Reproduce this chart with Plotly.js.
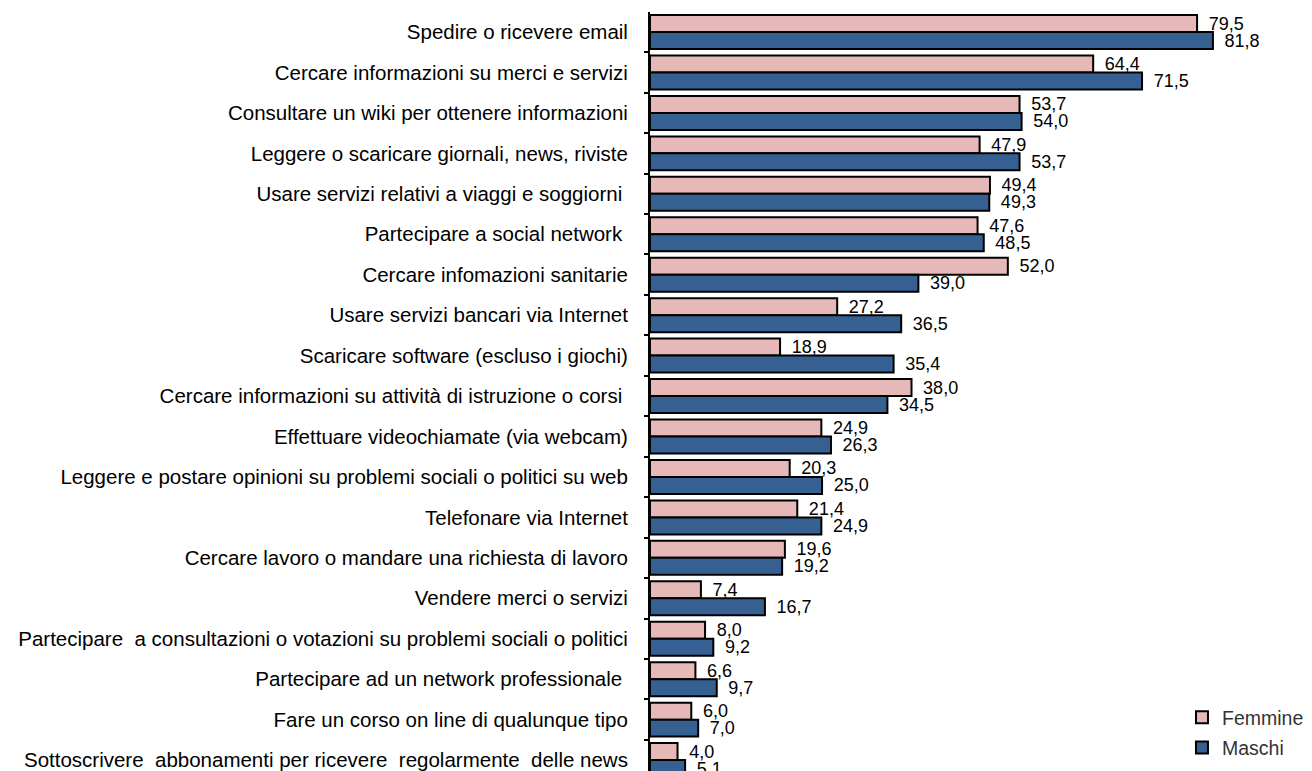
<!DOCTYPE html>
<html>
<head>
<meta charset="utf-8">
<script src="https://cdn.plot.ly/plotly-3.0.1.min.js"></script>
<style>
html,body{margin:0;padding:0;background:#fff;}
#chart{width:1312px;height:771px;}
</style>
</head>
<body>
<div id="chart"></div>
<script>
const categories = [
  "Spedire o ricevere email",
  "Cercare informazioni su merci e servizi",
  "Consultare un wiki per ottenere informazioni",
  "Leggere o scaricare giornali, news, riviste",
  "Usare servizi relativi a viaggi e soggiorni\u00a0",
  "Partecipare a social network\u00a0",
  "Cercare infomazioni sanitarie",
  "Usare servizi bancari via Internet",
  "Scaricare software (escluso i giochi)",
  "Cercare informazioni su attività di istruzione o corsi\u00a0",
  "Effettuare videochiamate (via webcam)",
  "Leggere e postare opinioni su problemi sociali o politici su web",
  "Telefonare via Internet",
  "Cercare lavoro o mandare una richiesta di lavoro",
  "Vendere merci o servizi",
  "Partecipare \u00a0a consultazioni o votazioni su problemi sociali o politici",
  "Partecipare ad un network professionale\u00a0",
  "Fare un corso on line di qualunque tipo",
  "Sottoscrivere \u00a0abbonamenti per ricevere \u00a0regolarmente \u00a0delle news"
];
const femmine = [79.5, 64.4, 53.7, 47.9, 49.4, 47.6, 52.0, 27.2, 18.9, 38.0, 24.9, 20.3, 21.4, 19.6, 7.4, 8.0, 6.6, 6.0, 4.0];
const maschi  = [81.8, 71.5, 54.0, 53.7, 49.3, 48.5, 39.0, 36.5, 35.4, 34.5, 26.3, 25.0, 24.9, 19.2, 16.7, 9.2, 9.7, 7.0, 5.1];

const fmt = v => "\u00a0\u2009" + v.toFixed(1).replace(".", ",");
const FONT = "'Liberation Sans', Arial, sans-serif";

const traces = [
  {
    type: "bar", orientation: "h", name: "Femmine", legendgroup: "f",
    y: categories, x: femmine,
    text: femmine.map(fmt), textposition: "outside", constraintext: "none", cliponaxis: false,
    textfont: {family: FONT, size: 18, color: "#000"},
    marker: {color: "#E6B9B8", line: {color: "#000", width: 2}}
  },
  {
    type: "bar", orientation: "h", name: "Maschi", legendgroup: "m",
    y: categories, x: maschi,
    text: maschi.map(fmt), textposition: "outside", constraintext: "none", cliponaxis: false,
    textfont: {family: FONT, size: 18, color: "#000"},
    marker: {color: "#376092", line: {color: "#000", width: 2}}
  }
];

const layout = {
  width: 1312, height: 771,
  margin: {l: 650, r: 0, t: 12, b: 0, autoexpand: false},
  paper_bgcolor: "#fff", plot_bgcolor: "#fff",
  barmode: "group", bargap: 0.16, bargroupgap: 0,
  font: {family: FONT, size: 20, color: "#000"},
  showlegend: true,
  legend: {
    xref: "container", yref: "container",
    x: 0.9009, y: 0.0947, xanchor: "left", yanchor: "top",
    font: {family: FONT, size: 19.5, color: "#333"},
    bgcolor: "rgba(0,0,0,0)", tracegroupgap: 2, itemwidth: 30
  },
  xaxis: {
    range: [0, 96.2], showgrid: false, zeroline: false, showline: false,
    showticklabels: false, ticks: "", fixedrange: true
  },
  yaxis: {
    type: "category", range: [18.27, -0.495], autorange: false,
    showgrid: false, zeroline: false,
    showline: true, linecolor: "#000", linewidth: 2,
    ticks: "outside", tickson: "boundaries", ticklen: 4, tickwidth: 2, tickcolor: "#000",
    ticklabelstandoff: 16,
    tickfont: {family: FONT, size: 20.5, color: "#000"}
  }
};

Plotly.newPlot("chart", traces, layout, {displayModeBar: false, staticPlot: true});
</script>
</body>
</html>
